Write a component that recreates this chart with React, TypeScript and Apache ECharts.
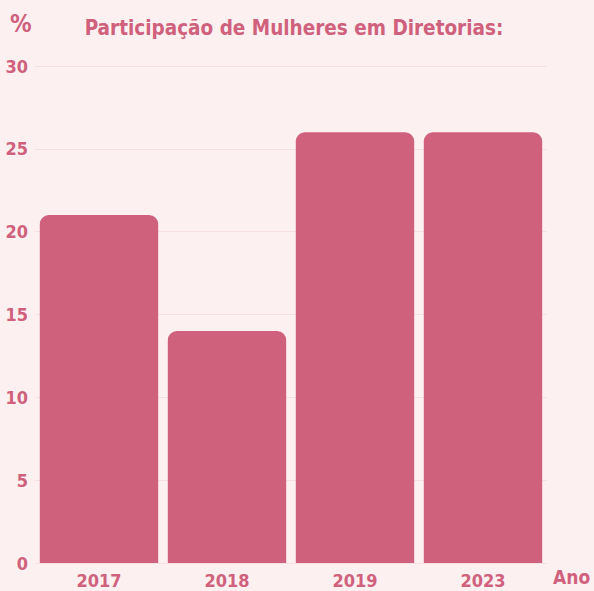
import React, { useEffect, useRef } from "react";
import * as echarts from "echarts";

const categories = ["2017", "2018", "2019", "2023"];
const values = [21, 14, 26, 26];
const yTicks = [0, 5, 10, 15, 20, 25, 30];

const PINK = "#d0617c";
const FONT = "'DejaVu Sans Condensed', 'Liberation Sans Narrow', 'Noto Sans', sans-serif";

export default function App() {
  const ref = useRef<HTMLDivElement>(null);
  useEffect(() => {
    document.body.style.margin = "0";
    const chart = echarts.init(ref.current!, null, { renderer: "svg" });
    chart.setOption({
      animation: false,
      backgroundColor: "#fdf0f1",
      textStyle: { fontFamily: FONT },
      title: {
        text: "Participação de Mulheres em Diretorias:",
        left: 289,
        textAlign: "center",
        top: 12,
        textStyle: { color: PINK, fontSize: 20.5, fontWeight: "bold", fontFamily: FONT },
      },
      grid: { left: 35, right: 47, top: 66, bottom: 28, outerBoundsMode: "none", containLabel: false },
      xAxis: {
        type: "category",
        data: categories,
        name: "Ano",
        nameLocation: "end",
        nameGap: 6,
        nameTextStyle: { color: PINK, fontSize: 19, fontWeight: "bold", fontFamily: FONT, verticalAlign: "top", padding: [4, 0, 0, 0] },
        axisLine: { show: false },
        axisTick: { show: false },
        axisLabel: { color: PINK, fontSize: 18, fontWeight: "bold", fontFamily: FONT, margin: 8 },
      },
      yAxis: {
        type: "value",
        min: yTicks[0],
        max: yTicks[yTicks.length - 1],
        interval: 5,
        name: "%",
        nameLocation: "end",
        nameGap: 30,
        nameTextStyle: { color: PINK, fontSize: 24, fontWeight: "bold", fontFamily: FONT, align: "left", padding: [0, 0, 0, -25] },
        axisLine: { show: false },
        axisTick: { show: false },
        axisLabel: { color: PINK, fontSize: 18, fontWeight: "bold", fontFamily: FONT, margin: 7 },
        splitLine: { lineStyle: { color: "#f8dfe3", width: 1 } },
      },
      series: [
        {
          type: "bar",
          data: values,
          barCategoryGap: "7.5%",
          itemStyle: { color: PINK, borderRadius: [9, 9, 0, 0] },
        },
      ],
    });
    return () => chart.dispose();
  }, []);
  return <div ref={ref} style={{ width: 594, height: 591 }} />;
}
